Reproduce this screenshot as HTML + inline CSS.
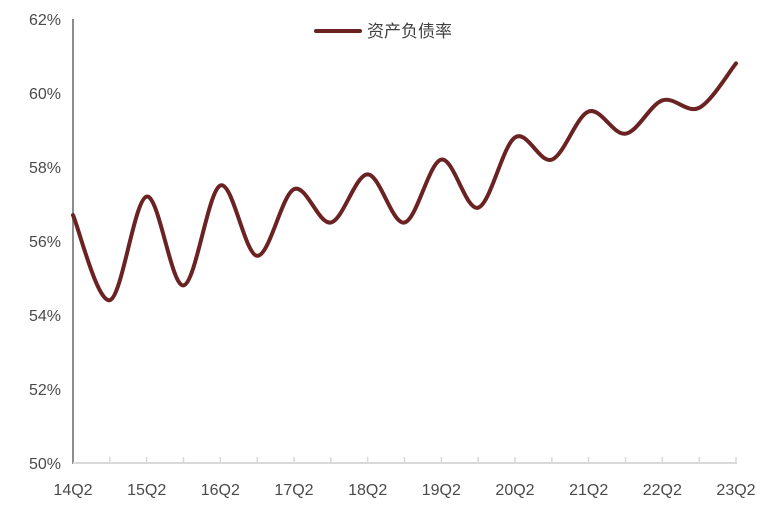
<!DOCTYPE html>
<html><head><meta charset="utf-8"><style>
body{margin:0;background:#fff;width:779px;height:507px;overflow:hidden}
text{font-family:"Liberation Sans","Noto Sans CJK SC",sans-serif;fill:#4a4a4a;font-size:16px}
</style></head><body>
<svg id="s" width="779" height="507" xmlns="http://www.w3.org/2000/svg">
<g id="g"></g>
<line x1="73" y1="19" x2="73" y2="464" stroke="#8c8c8c" stroke-width="2"/>
<line x1="73" y1="463" x2="737" y2="463" stroke="#d9d9d9" stroke-width="2"/>
<path id="p" fill="none" stroke="#6b2222" stroke-width="4" stroke-linecap="round"/>
<line x1="316" y1="31" x2="360" y2="31" stroke="#6b2222" stroke-width="4" stroke-linecap="round"/>
<text x="367" y="37" style="font-size:17px;fill:#404040">资产负债率</text>
</svg>
<script>
var g=document.getElementById('g'),h='';
var yl=['50%','52%','54%','56%','58%','60%','62%'];
for(var i=0;i<7;i++){var y=463-i*74;h+='<text x="61" y="'+(y+6)+'" text-anchor="end">'+yl[i]+'</text>';}
var x0=73,dx=(736-73)/18;
for(var i=1;i<=18;i++){var x=x0+i*dx;h+='<line x1="'+x+'" y1="463" x2="'+x+'" y2="457" stroke="#d9d9d9" stroke-width="1.5"/>';}
for(var i=0;i<10;i++){var x=x0+i*2*dx;h+='<text x="'+x+'" y="495" text-anchor="middle">'+(14+i)+'Q2</text>';}
g.innerHTML=h;
var v=[56.7,54.4,57.2,54.8,57.5,55.6,57.4,56.5,57.8,56.5,58.2,56.9,58.8,58.2,59.5,58.9,59.8,59.6,60.8];
var P=v.map(function(a,i){return [x0+i*dx,463-(a-50)*37];});
var d='M'+P[0][0]+','+P[0][1];
for(var i=0;i<P.length-1;i++){var p0=P[i-1]||P[i],p1=P[i],p2=P[i+1],p3=P[i+2]||p2;
d+=' C'+(p1[0]+(p2[0]-p0[0])/6)+','+(p1[1]+(p2[1]-p0[1])/6)+' '+(p2[0]-(p3[0]-p1[0])/6)+','+(p2[1]-(p3[1]-p1[1])/6)+' '+p2[0]+','+p2[1];}
document.getElementById('p').setAttribute('d',d);
</script>
</body></html>
